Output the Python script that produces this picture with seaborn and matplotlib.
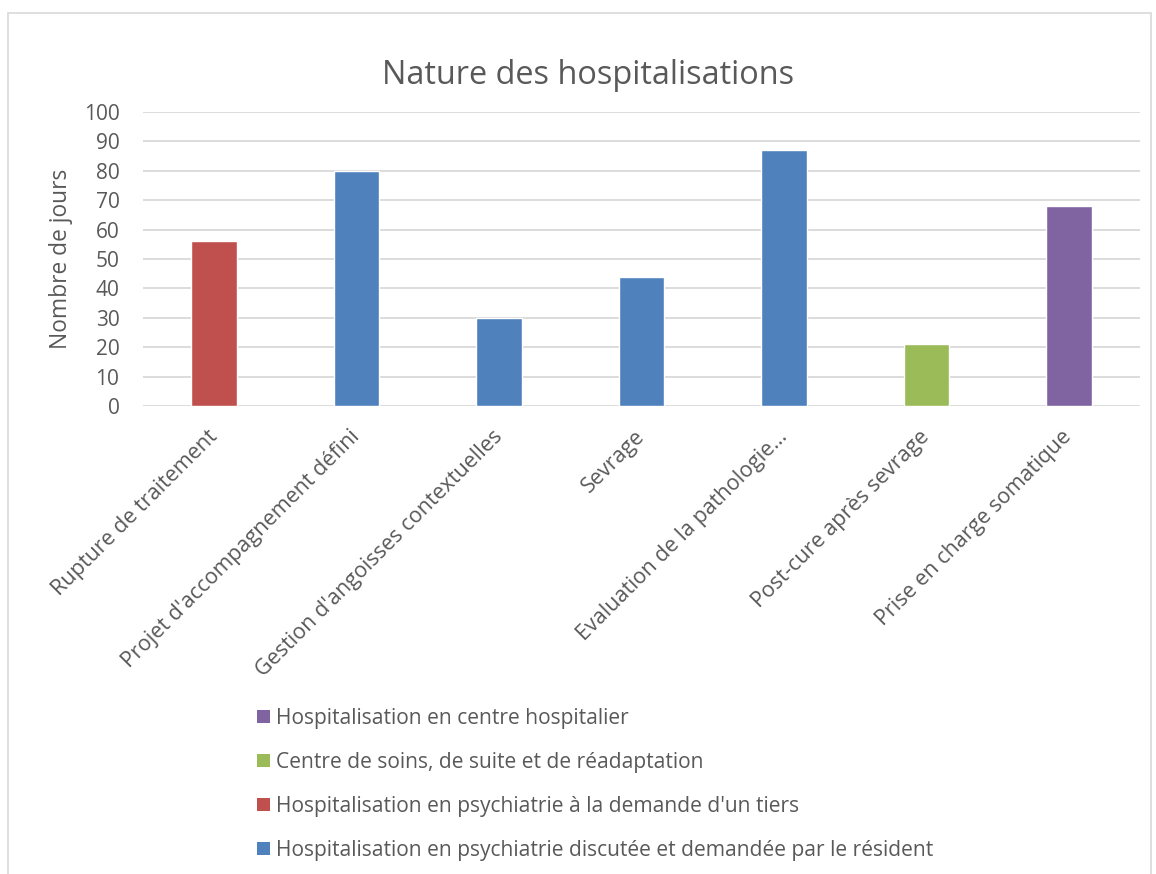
import matplotlib
matplotlib.use("Agg")
import matplotlib.pyplot as plt
import seaborn as sns
import pandas as pd
from matplotlib.patches import Rectangle, Patch

categories = ["Rupture de traitement", "Projet d'accompagnement défini",
              "Gestion d'angoisses contextuelles", "Sevrage",
              "Evaluation de la pathologie…", "Post-cure après sevrage",
              "Prise en charge somatique"]
values = [56, 80, 30, 44, 87, 21, 68]
groups = ["Hospitalisation en psychiatrie à la demande d'un tiers",
          "Hospitalisation en psychiatrie discutée et demandée par le résident",
          "Hospitalisation en psychiatrie discutée et demandée par le résident",
          "Hospitalisation en psychiatrie discutée et demandée par le résident",
          "Hospitalisation en psychiatrie discutée et demandée par le résident",
          "Centre de soins, de suite et de réadaptation",
          "Hospitalisation en centre hospitalier"]
legend_order = ["Hospitalisation en centre hospitalier",
                "Centre de soins, de suite et de réadaptation",
                "Hospitalisation en psychiatrie à la demande d'un tiers",
                "Hospitalisation en psychiatrie discutée et demandée par le résident"]
palette = {
    "Hospitalisation en psychiatrie discutée et demandée par le résident": "#4F81BD",
    "Hospitalisation en psychiatrie à la demande d'un tiers": "#C0504D",
    "Centre de soins, de suite et de réadaptation": "#9BBB59",
    "Hospitalisation en centre hospitalier": "#8064A2",
}

df = pd.DataFrame({"cat": categories, "val": values, "grp": groups})

sns.set_theme(style="white")
plt.rcParams['font.family'] = ['Open Sans', 'DejaVu Sans']
text_color = "#595959"

fig = plt.figure(figsize=(11.56, 8.74), dpi=100)
ax = fig.add_axes([143/1156, 1-406/874, (1140-143)/1156, (406-112)/874])

sns.barplot(data=df, x="cat", y="val", hue="grp", palette=palette,
            dodge=False, width=0.32, saturation=1, ax=ax, legend=False)

ax.set_ylim(0, 100)
ax.set_yticks(range(0, 101, 10))
ax.set_xlim(-0.5, len(categories) - 0.5)
ax.yaxis.grid(True, color="#D9D9D9", linewidth=1.3)
ax.set_axisbelow(True)
for s in ["top", "right", "left", "bottom"]:
    ax.spines[s].set_visible(False)
ax.tick_params(axis="both", length=0, colors=text_color, labelsize=15)
ax.tick_params(axis="y", pad=17)
ax.set_xlabel("")
ax.set_ylabel("Nombre de jours", fontsize=16.4, color=text_color)
ax.yaxis.set_label_coords((73-143)/997, 0.5)
ax.set_xticks(range(len(categories)))
ax.set_xticklabels(categories, rotation=45, ha="right", va="center",
                   rotation_mode="anchor", fontsize=15.5, color=text_color)
ax.tick_params(axis="x", pad=20)

fig.text(588/1156, 1-75/874, "Nature des hospitalisations", ha="center", va="center",
         fontsize=23.4, color=text_color)

handles = [Patch(facecolor=palette[g], edgecolor="none") for g in legend_order]
leg = fig.legend(handles, legend_order, loc="upper left",
                 bbox_to_anchor=(257/1156, 1-708/874), frameon=False,
                 fontsize=15.1, labelspacing=1.1, handlelength=0.6, handleheight=0.6,
                 handletextpad=0.3, borderaxespad=0, borderpad=0)
for t in leg.get_texts():
    t.set_color(text_color)

fig.patches.append(Rectangle((8/1156, -0.01), (1151-8)/1156, 1-13/874 + 0.01,
                             transform=fig.transFigure, fill=False,
                             edgecolor="#D9D9D9", linewidth=1.2))

fig.savefig("out.png", dpi=100)
